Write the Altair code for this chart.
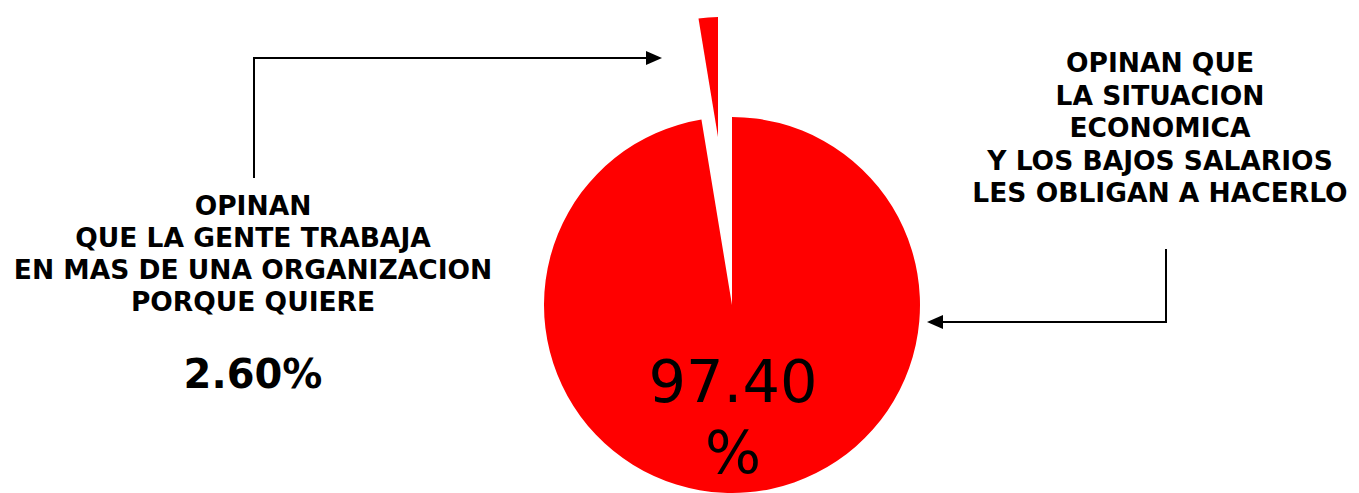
import altair as alt
import pandas as pd

# Survey answers and their shares (%)
categories = [
    "OPINAN QUE\nLA SITUACION\nECONOMICA\nY LOS BAJOS SALARIOS\nLES OBLIGAN A HACERLO",
    "OPINAN\nQUE LA GENTE TRABAJA\nEN MAS DE UNA ORGANIZACION\nPORQUE QUIERE",
]
shares = [97.4, 2.6]
order = [0, 1]

df = pd.DataFrame({"category": categories, "share": shares, "order": order})

RED = "#FF0000"
FONT = "DejaVu Sans"

base = (
    alt.Chart(df)
    .transform_window(end="sum(share)", sort=[alt.SortField("order")])
    .transform_calculate(start="datum.end - datum.share")
)
theta_scale = alt.Scale(domain=[0, 100])

big = base.transform_filter("datum.order == 0")
small = base.transform_filter("datum.order == 1")

# Main slice
big_arc = big.mark_arc(color=RED, outerRadius=188).encode(
    theta=alt.Theta("start:Q", scale=theta_scale),
    theta2="end:Q",
    x=alt.value(732),
    y=alt.value(305),
)

# Exploded small slice
small_arc = small.mark_arc(color=RED, outerRadius=120).encode(
    theta=alt.Theta("start:Q", scale=theta_scale),
    theta2="end:Q",
    x=alt.value(718),
    y=alt.value(137),
)

# Value labels
big_value = (
    big.transform_calculate(label="[format(datum.share, '.2f'), '%']")
    .mark_text(font=FONT, fontSize=59, color="black", align="center",
               baseline="alphabetic", lineHeight=71)
    .encode(text="label:N", x=alt.value(733), y=alt.value(402))
)

small_value = (
    small.transform_calculate(label="format(datum.share, '.2f') + '%'")
    .mark_text(font=FONT, fontSize=40, fontWeight="bold", color="black",
               align="center", baseline="alphabetic")
    .encode(text="label:N", x=alt.value(253), y=alt.value(388))
)

# Category descriptions
left_text = small.mark_text(
    font=FONT, fontSize=26.5, fontWeight="bold", color="black", align="center",
    baseline="alphabetic", lineHeight=32, lineBreak="\n",
).encode(text="category:N", x=alt.value(253), y=alt.value(215))

right_text = big.mark_text(
    font=FONT, fontSize=26.5, fontWeight="bold", color="black", align="center",
    baseline="alphabetic", lineHeight=32.5, lineBreak="\n",
).encode(text="category:N", x=alt.value(1160), y=alt.value(72))

# Connector arrows
rule_kw = dict(color="black", strokeWidth=2)
left_v = small.mark_rule(**rule_kw).encode(x=alt.value(254), y=alt.value(57), y2=alt.value(178))
left_h = small.mark_rule(**rule_kw).encode(x=alt.value(253), x2=alt.value(650), y=alt.value(58))
left_head = small.mark_point(
    shape="M -1 -0.875 L 1 0 L -1 0.875 Z", size=256, filled=True,
    color="black", opacity=1,
).encode(x=alt.value(654), y=alt.value(58))

right_v = big.mark_rule(**rule_kw).encode(x=alt.value(1166), y=alt.value(249), y2=alt.value(323))
right_h = big.mark_rule(**rule_kw).encode(x=alt.value(939), x2=alt.value(1167), y=alt.value(322))
right_head = big.mark_point(
    shape="M 1 -0.875 L -1 0 L 1 0.875 Z", size=256, filled=True,
    color="black", opacity=1,
).encode(x=alt.value(935), y=alt.value(322))

chart = (
    alt.layer(
        big_arc, small_arc, big_value, small_value, left_text, right_text,
        left_v, left_h, left_head, right_v, right_h, right_head,
    )
    .properties(width=1359, height=493, autosize=alt.AutoSizeParams(type="none"),
                padding=0, background="white")
    .configure_view(strokeWidth=0)
)

chart.save("out.html", embed_options={"renderer": "svg", "actions": False})
